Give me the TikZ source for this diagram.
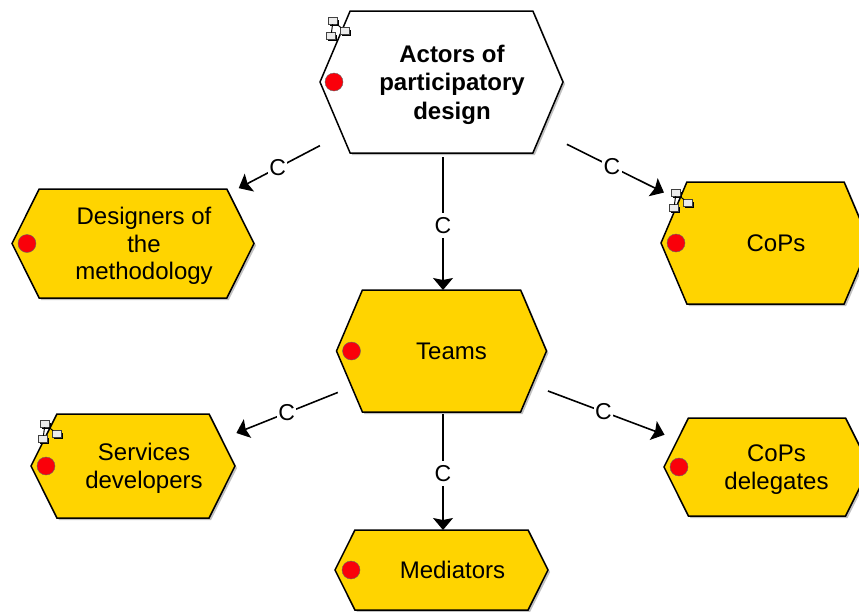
\documentclass[tikz,border=0pt]{standalone}
\usepackage{xcolor}
\usepackage{fontspec}
\setmainfont{Liberation Sans}
\definecolor{goldfill}{RGB}{255,212,0}
\definecolor{dotred}{RGB}{250,0,10}
\usetikzlibrary{positioning}
\usetikzlibrary{arrows.meta,shapes.symbols,shadows}

\tikzset{
	hexa/.style={shape=signal,signal to=east and west,signal pointer angle=#1,draw=black,line width=1.5pt,
		inner sep=0,outer sep=0,fill=goldfill,drop shadow={shadow xshift=2pt,shadow yshift=-2pt,fill=black!35,opacity=0.7}},
	hexa/.default=127,
	redpoint/.style={circle,draw=black!60,line width=0.4pt,fill=dotred,minimum size=18pt,inner sep=0,outer sep=0},
	txt/.style={align=center,inner sep=0,outer sep=0,font=\fontsize{24}{27.5}\selectfont},
	conn/.style={line width=1.6pt,-{Stealth[length=12pt,width=20pt,inset=2pt]}},
	clabel/.style={fill=white,inner xsep=1.5pt,inner ysep=4pt,font=\fontsize{23}{27}\selectfont},
	netbox/.style={draw=black!75,fill=black!8,line width=0.9pt,inner sep=0,outer sep=0,minimum width=9pt,minimum height=6.5pt,
		drop shadow={shadow xshift=1.8pt,shadow yshift=-1.8pt,fill=black,opacity=1}},
	netglyph/.pic={
		\node[netbox] (-a) at (-3,7) {};
		\node[netbox] (-b) at (9,-3) {};
		\node[netbox] (-c) at (-5,-8) {};
		\draw[line width=1pt] (-a) -- (-c) (-a) -- (-b);
	}
}

\begin{document}
\begin{tikzpicture}[x=1pt,y=1pt,node distance=10pt]
	\useasboundingbox (0,0) rectangle (859,-611);
	\clip (0,0) rectangle (859,-611);
	% top of the tree
	\node (actors) [hexa=134,fill=white,minimum width=243pt,minimum height=142pt] at (441.5,-82) {};
	\node (teams) [hexa=134,minimum width=210pt,minimum height=122pt,below=137pt of actors] {};
	\node (mediators) [hexa=127,minimum width=213pt,minimum height=80pt,below=118pt of teams] {};
	\node (designers) [hexa=127,minimum width=242pt,minimum height=109pt] at (133,-243.5) {};
	\node (cops) [hexa=134,minimum width=209pt,minimum height=122pt] at (765.5,-243) {};
	\node (services) [hexa=127,minimum width=204pt,minimum height=104pt] at (133,-466) {};
	\node (delegates) [hexa=127,minimum width=206pt,minimum height=98pt] at (767,-467) {};
	% red points
	\node (dactors) [redpoint,right=5pt of actors.west] {};
	\node (dteams) [redpoint,right=6pt of teams.west] {};
	\node (dmediators) [redpoint,right=7pt of mediators.west] {};
	\node (ddesigners) [redpoint,right=6pt of designers.west] {};
	\node (dcops) [redpoint,right=6pt of cops.west] {};
	\node (dservices) [redpoint,right=6pt of services.west] {};
	\node (ddelegates) [redpoint,right=6pt of delegates.west] {};
	% texts
	\node (tactors) [txt,font=\fontsize{24}{28.5}\selectfont\bfseries,xshift=10.5pt,yshift=-2.5pt] at (actors) {Actors of\\participatory\\design};
	\node (tteams) [txt,xshift=10pt] at (teams) {Teams};
	\node (tmediators) [txt,xshift=11pt,yshift=0.5pt] at (mediators) {Mediators};
	\node (tdesigners) [txt,xshift=11pt,yshift=-2.5pt] at (designers) {Designers of\\the\\methodology};
	\node (tcops) [txt,xshift=10.5pt] at (cops) {CoPs};
	\node (tservices) [txt,xshift=11pt,yshift=-2.5pt] at (services) {Services\\developers};
	\node (tdelegates) [txt,xshift=9.5pt,yshift=-2.5pt] at (delegates) {CoPs\\delegates};
	% network glyphs
	\pic (nactors) at (336,-28) {netglyph};
	\pic (nservices) at (48,-431) {netglyph};
	\pic (ncops) at (679,-200) {netglyph};
	\path[conn]
		([xshift=1.5pt]actors.south) edge[shorten <=4pt] node[clabel,pos=0.53] {C} ([xshift=1.5pt]teams.north)
		([xshift=1.5pt]teams.south) edge[shorten <=2pt] node[clabel,pos=0.52] {C} ([xshift=1.5pt]mediators.north)
		(actors) edge[shorten >=11pt,shorten <=25pt] node[clabel,pos=0.57] {C} (designers)
		(actors) edge[shorten >=17pt,shorten <=28pt] node[clabel,pos=0.51] {C} (cops)
		(teams) edge[shorten >=16pt,shorten <=15pt] node[clabel,pos=0.5] {C} (services.17)
		(teams) edge[shorten >=14pt,shorten <=17pt] node[clabel,pos=0.49] {C} (delegates.163);
\end{tikzpicture}
\end{document}
